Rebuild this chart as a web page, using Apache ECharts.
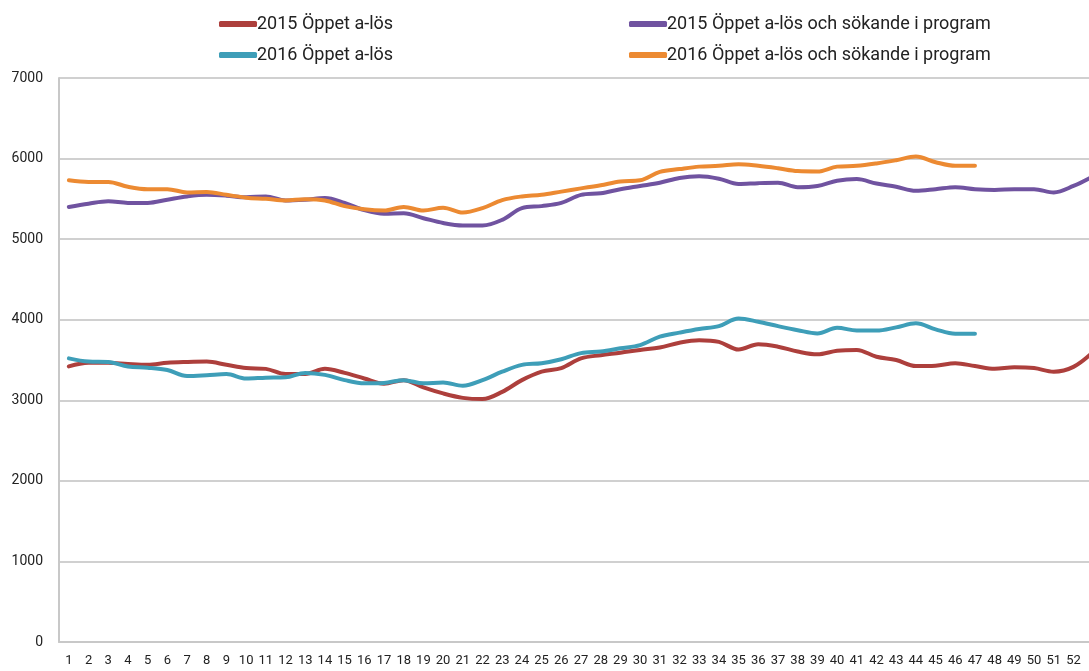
<!DOCTYPE html>
<html>
<head>
<meta charset="utf-8">
<script src="https://cdn.jsdelivr.net/npm/echarts@6/dist/echarts.min.js"></script>
<style>
  html, body { margin: 0; padding: 0; background: #fff; }
  #chart { width: 1089px; height: 671px; }
</style>
</head>
<body>
<div id="chart"></div>
<script>
// veckor 1-53 (53 är utanför bild till höger)
const weeks = [];
for (let w = 1; w <= 53; w++) weeks.push(String(w));

const yTicks = [0, 1000, 2000, 3000, 4000, 5000, 6000, 7000];

const open2015 = [
  3420, 3465, 3465, 3450, 3440, 3465, 3475, 3480, 3440, 3400,
  3390, 3325, 3325, 3390, 3340, 3270, 3205, 3250, 3160, 3085,
  3030, 3015, 3105, 3250, 3355, 3400, 3520, 3560, 3590, 3625,
  3655, 3715, 3745, 3725, 3630, 3695, 3665, 3605, 3570, 3615,
  3625, 3540, 3500, 3425, 3430, 3460, 3425, 3390, 3410, 3400,
  3355, 3415, 3600
];

const openProg2015 = [
  5400, 5440, 5470, 5450, 5450, 5490, 5530, 5550, 5540, 5520,
  5530, 5480, 5490, 5510, 5450, 5360, 5315, 5320, 5260, 5200,
  5170, 5170, 5240, 5385, 5410, 5450, 5550, 5570, 5620, 5660,
  5700, 5760, 5780, 5750, 5685, 5695, 5700, 5645, 5660, 5725,
  5745, 5690, 5650, 5600, 5620, 5645, 5620, 5610, 5620, 5620,
  5580, 5660, 5780
];

const open2016 = [
  3520, 3480, 3475, 3420, 3405, 3375, 3300, 3310, 3325, 3270,
  3280, 3285, 3340, 3315, 3250, 3210, 3215, 3250, 3210, 3220,
  3180, 3250, 3355, 3440, 3460, 3510, 3585, 3605, 3645, 3685,
  3790, 3840, 3885, 3920, 4015, 3975, 3920, 3870, 3830, 3900,
  3865, 3865, 3905, 3955, 3880, 3825, 3825
];

const openProg2016 = [
  5730, 5710, 5710, 5650, 5620, 5620, 5580, 5585, 5550, 5515,
  5500, 5480, 5495, 5480, 5410, 5370, 5355, 5400, 5355, 5390,
  5330, 5385, 5485, 5530, 5550, 5590, 5630, 5670, 5715, 5730,
  5835, 5870, 5900, 5910, 5930, 5910, 5880, 5845, 5840, 5900,
  5910, 5940, 5980, 6025, 5955, 5910, 5910
];

const names = [
  '2015 Öppet a-lös',
  '2015 Öppet a-lös och sökande i program',
  '2016 Öppet a-lös',
  '2016 Öppet a-lös och sökande i program'
];
const colors = ['#AD3F3C', '#7053A0', '#3E9EB8', '#EC8A32'];
const font = 'Roboto, "Open Sans", sans-serif';

const chart = echarts.init(document.getElementById('chart'), null, { renderer: 'canvas' });

function lineSeries(idx, data) {
  return {
    name: names[idx],
    type: 'line',
    data: data,
    smooth: 0.35,
    symbol: 'none',
    lineStyle: { color: colors[idx], width: 4, cap: 'round', join: 'round' },
    itemStyle: { color: colors[idx] }
  };
}

const legendBase = {
  orient: 'vertical',
  top: 10,
  itemGap: 13,
  itemWidth: 38,
  itemHeight: 6,
  icon: 'roundRect',
  textStyle: { color: '#222', fontSize: 18, fontFamily: font, padding: [0, 0, 0, -5] }
};

const option = {
  backgroundColor: '#fff',
  animation: false,
  legend: [
    Object.assign({}, legendBase, { left: 214, data: [names[0], names[2]] }),
    Object.assign({}, legendBase, { left: 624, data: [names[1], names[3]] })
  ],
  // plotytan fortsätter förbi högerkanten, som i originalet
  grid: { left: 59, top: 78, height: 564, width: 1044, outerBoundsMode: 'none' },
  xAxis: {
    type: 'category',
    data: weeks,
    boundaryGap: true,
    axisLine: { lineStyle: { color: '#c8c8c8', width: 2 } },
    axisTick: { show: false },
    axisLabel: {
      interval: 0, color: '#222', fontSize: 13, fontFamily: font, margin: 12,
      // vecka 53 syns inte i originalet
      formatter: v => (v === '53' ? '' : v)
    }
  },
  yAxis: {
    type: 'value',
    min: yTicks[0],
    max: yTicks[yTicks.length - 1],
    interval: 1000,
    axisLine: { show: true, lineStyle: { color: '#c8c8c8', width: 2 } },
    axisTick: { show: false },
    axisLabel: { color: '#222', fontSize: 14, fontFamily: font, margin: 16, formatter: v => String(v) },
    splitLine: { lineStyle: { color: '#d0d0d0', width: 2 } }
  },
  series: [
    lineSeries(0, open2015),
    lineSeries(1, openProg2015),
    lineSeries(2, open2016),
    lineSeries(3, openProg2016)
  ]
};

chart.setOption(option);
</script>
</body>
</html>
